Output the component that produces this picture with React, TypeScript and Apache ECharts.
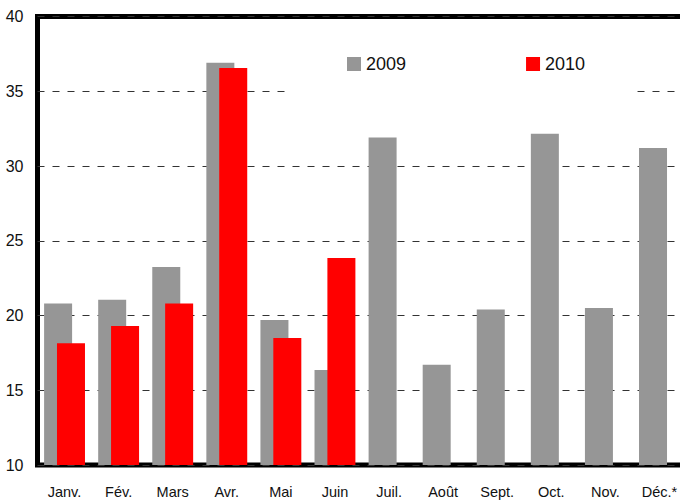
import React, { useEffect, useRef } from "react";
import * as echarts from "echarts";

const months = ["Janv.", "Fév.", "Mars", "Avr.", "Mai", "Juin", "Juil.", "Août", "Sept.", "Oct.", "Nov.", "Déc.*"];
const values2009 = [20.8, 21.05, 23.25, 36.9, 19.7, 16.35, 31.9, 16.7, 20.4, 32.15, 20.5, 31.2];
const values2010: (number | null)[] = [18.15, 19.3, 20.8, 36.55, 18.5, 23.85, null, null, null, null, null, null];
const yMin = 10;
const yMax = 40;
const yStep = 5;

const FONT = "'Liberation Sans Narrow', 'Arial Narrow', 'Liberation Sans', Arial, sans-serif";

export default function App() {
  const ref = useRef<HTMLDivElement>(null);
  useEffect(() => {
    document.body.style.margin = "0";
    if (!ref.current) return;
    const chart = echarts.init(ref.current, undefined, { renderer: "svg" });
    chart.setOption({
      animation: false,
      backgroundColor: "#ffffff",
      textStyle: { fontFamily: FONT },
      grid: {
        left: 37.5,
        top: 16.5,
        width: 649,
        height: 448.5,
        show: true,
        borderColor: "#000",
        borderWidth: 5,
        backgroundColor: "transparent",
        containLabel: false,
        outerBoundsMode: "none",
      },
      legend: {
        data: ["2009", "2010"],
        left: 285,
        top: 38,
        padding: [17, 52, 25, 62],
        backgroundColor: "#ffffff",
        itemWidth: 14,
        itemHeight: 14,
        itemGap: 120,
        icon: "rect",
        z: 10,
        textStyle: { fontFamily: FONT, fontSize: 18, color: "#111" },
      },
      xAxis: {
        type: "category",
        data: months,
        axisLine: { show: false },
        axisTick: { show: false },
        axisLabel: { color: "#111", fontSize: 14.5, fontFamily: FONT, margin: 19 },
      },
      yAxis: {
        type: "value",
        min: yMin,
        max: yMax,
        interval: yStep,
        axisLine: { show: false },
        axisTick: { show: false },
        axisLabel: { color: "#111", fontSize: 16, fontFamily: FONT, margin: 14 },
        splitLine: {
          show: true,
          lineStyle: { color: "#333", width: 1, type: [7, 8] },
        },
      },
      series: [
        {
          name: "2009",
          type: "bar",
          data: values2009,
          barWidth: 28,
          barGap: "-54%",
          itemStyle: { color: "#969696" },
        },
        {
          name: "2010",
          type: "bar",
          data: values2010,
          barWidth: 28,
          itemStyle: { color: "#ff0000" },
        },
      ],
    });
    return () => chart.dispose();
  }, []);
  return <div ref={ref} style={{ width: 680, height: 500 }} />;
}
